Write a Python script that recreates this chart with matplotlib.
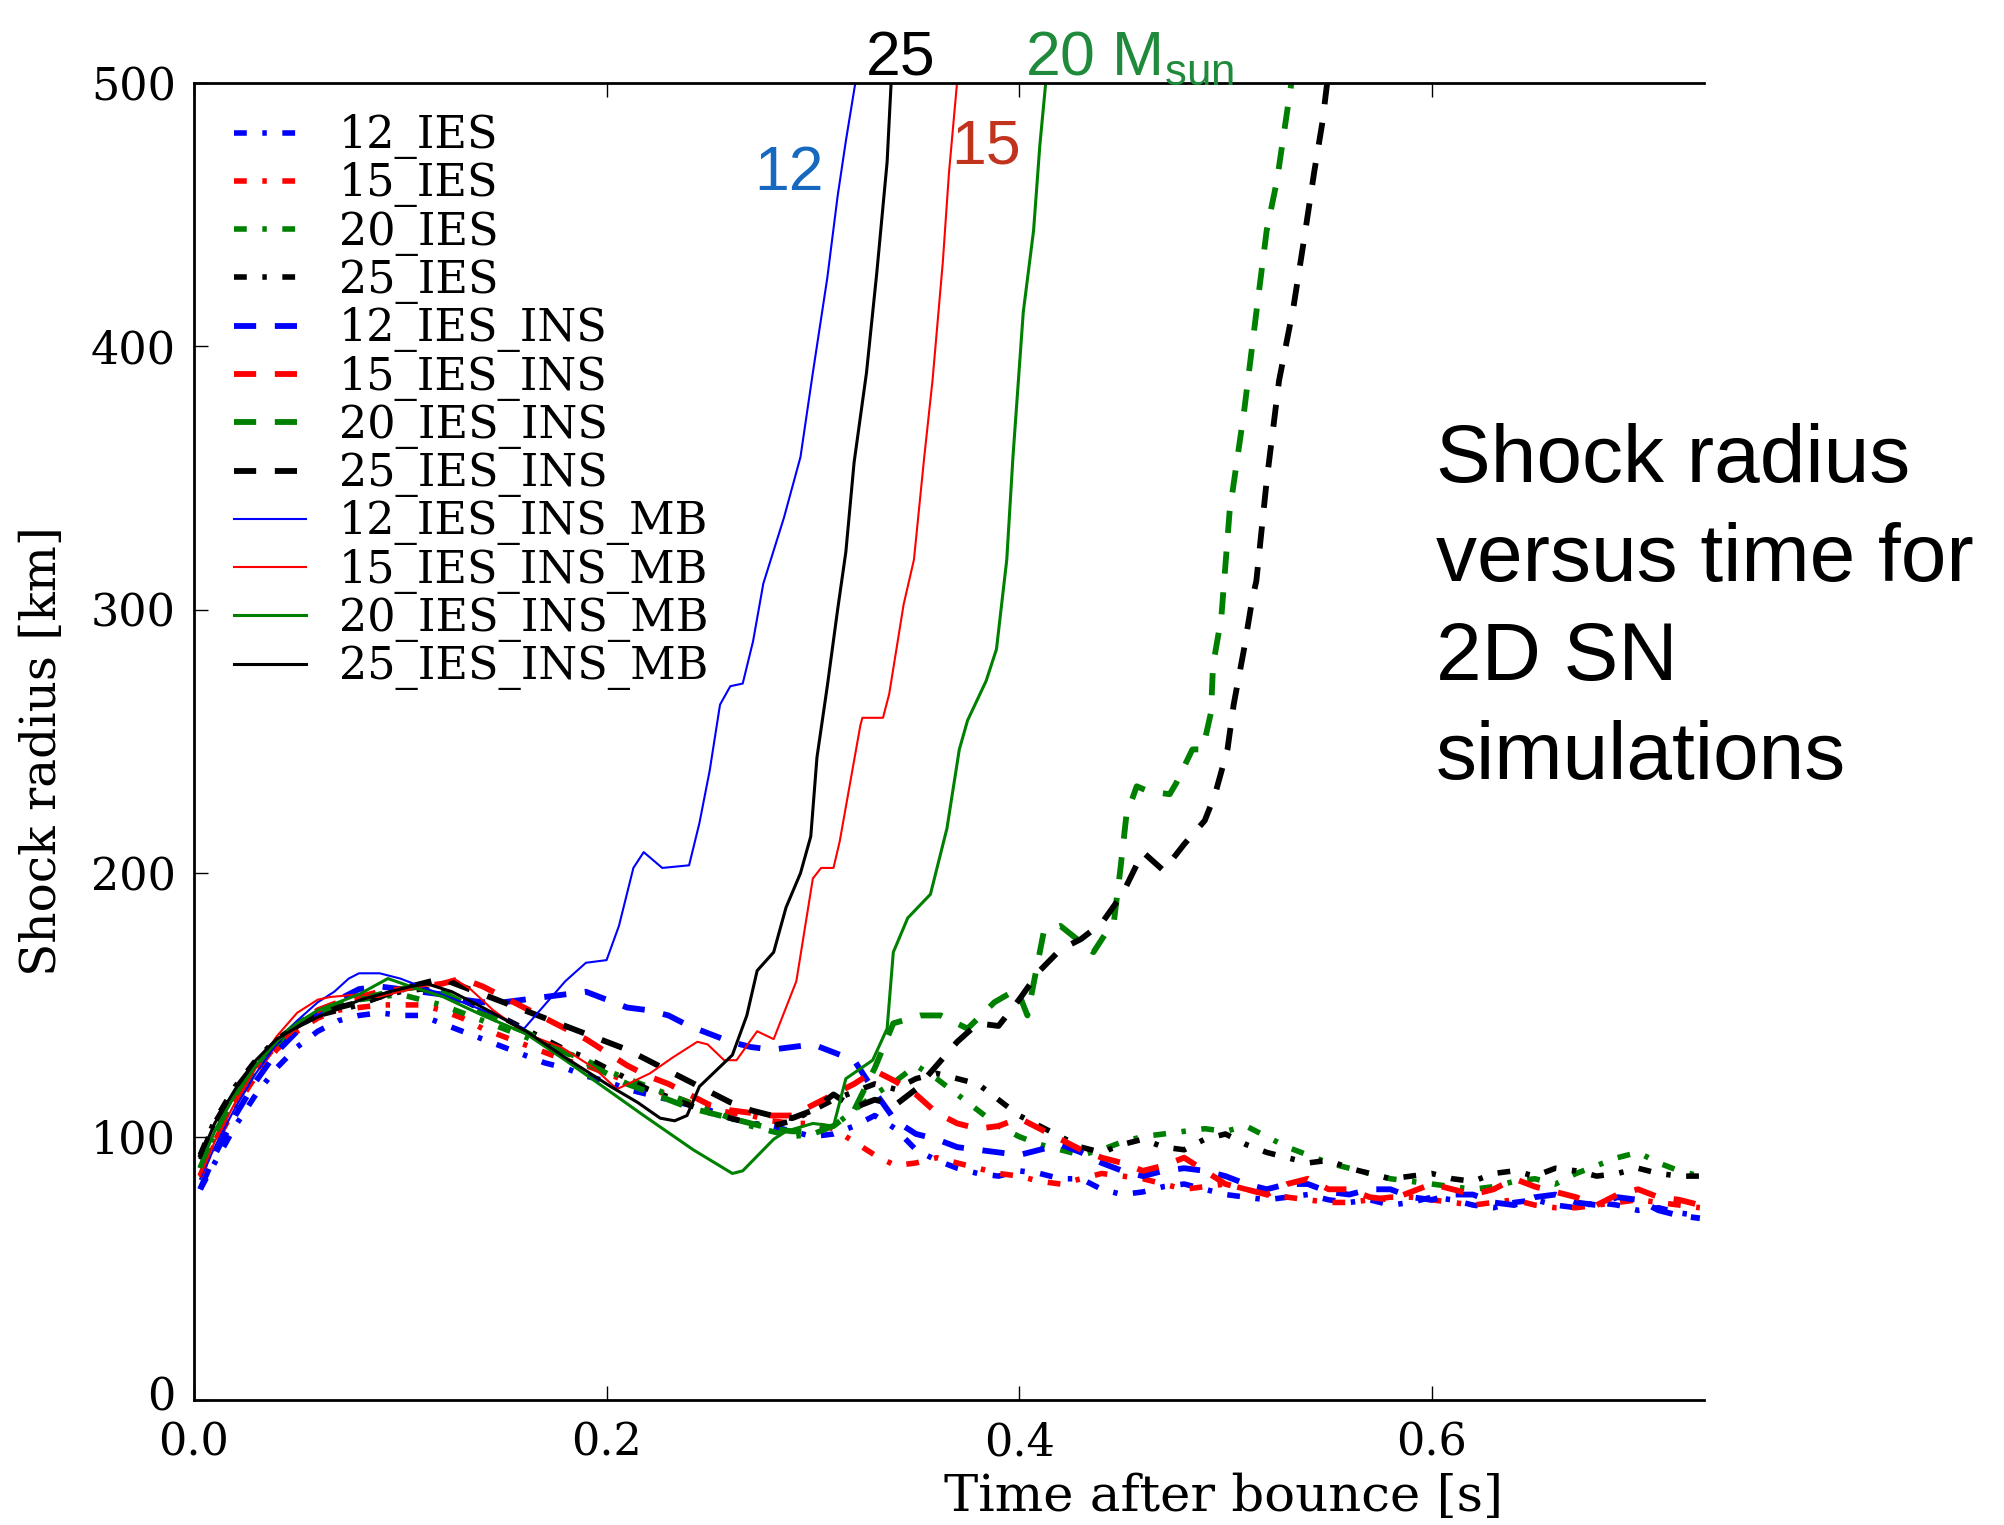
import matplotlib
matplotlib.use("Agg")
import matplotlib.pyplot as plt
from matplotlib.transforms import ScaledTranslation

# shared time grid [s] for the slowly varying runs
T_GRID = [0.003, 0.01, 0.02, 0.03, 0.04, 0.05, 0.06, 0.07, 0.08, 0.09,
          0.10, 0.11, 0.12, 0.13, 0.14, 0.15, 0.16, 0.17, 0.18, 0.19,
          0.20, 0.21, 0.22, 0.23, 0.24, 0.25, 0.26, 0.27, 0.28, 0.29,
          0.30, 0.31, 0.32, 0.33, 0.34, 0.35, 0.36, 0.37, 0.38, 0.39,
          0.40, 0.41, 0.42, 0.43, 0.44, 0.45, 0.46, 0.47, 0.48, 0.49,
          0.50, 0.51, 0.52, 0.53, 0.54, 0.55, 0.56, 0.57, 0.58, 0.59,
          0.60, 0.61, 0.62, 0.63, 0.64, 0.65, 0.66, 0.67, 0.68, 0.69,
          0.70, 0.71, 0.72, 0.73]

# shock radius [km], IES runs (dash-dot)
r12_ies = [80, 90, 104, 116, 126, 134, 140, 144, 146, 147,
           146, 146, 143, 140, 137, 134, 131, 128, 126, 123,
           121, 118, 116, 114, 112, 110, 107, 105, 104, 102,
           100, 101, 104, 108, 103, 95, 91, 88, 86, 85,
           87, 86, 84, 84, 80, 78, 79, 81, 82, 80,
           78, 77, 76, 77, 78, 76, 75, 76, 74, 75,
           77, 76, 74, 73, 75, 76, 74, 73, 75, 74,
           72, 73, 71, 70]
r15_ies = [85, 97, 111, 123, 133, 140, 145, 148, 149, 150,
           150, 150, 148, 145, 141, 138, 135, 132, 129, 127,
           124, 121, 118, 116, 113, 111, 109, 108, 106, 105,
           105, 103, 98, 93, 89, 90, 92, 90, 88, 86,
           85, 83, 82, 84, 86, 85, 84, 82, 80, 81,
           82, 80, 78, 77, 76, 75, 75, 76, 77, 77,
           76, 75, 74, 75, 76, 74, 73, 73, 74, 75,
           76, 75, 74, 73]
r20_ies = [88, 100, 114, 126, 135, 142, 147, 150, 152, 153,
           154, 152, 150, 147, 144, 141, 138, 135, 132, 129,
           125, 122, 119, 116, 113, 110, 107, 104, 102, 100,
           101, 104, 110, 116, 121, 127, 122, 116, 110, 104,
           100, 97, 95, 93, 95, 98, 100, 101, 102, 103,
           102, 104, 100, 96, 93, 90, 88, 86, 84, 83,
           82, 81, 80, 81, 83, 84, 82, 86, 89, 92,
           94, 90, 87, 85]
r25_ies = [93, 106, 119, 129, 137, 142, 146, 148, 150, 153,
           155, 156, 155, 152, 148, 145, 141, 137, 133, 130,
           126, 122, 118, 115, 112, 109, 107, 105, 104, 106,
           110, 114, 117, 120, 118, 122, 124, 122, 120, 114,
           108, 104, 100, 96, 94, 97, 99, 96, 95, 99,
           101, 97, 94, 92, 90, 91, 88, 86, 84, 85,
           86, 84, 83, 86, 87, 85, 88, 87, 85, 86,
           88, 86, 85, 85]

# IES_INS runs (dashed)
r12_ins = [80, 93, 108, 121, 132, 140, 147, 152, 156, 157,
           156, 155, 154, 152, 151, 151, 152, 153, 154, 155,
           152, 149, 148, 146, 142, 139, 136, 134, 133, 134,
           135, 132, 129, 117, 106, 101, 99, 96, 95, 94,
           93, 95, 97, 94, 90, 87, 85, 87, 88, 87,
           85, 82, 80, 82, 82, 79, 78, 80, 80, 77,
           76, 78, 78, 75, 74, 77, 78, 75, 74, 77,
           76, 72, 70, 69]
r15_ins = [85, 98, 113, 125, 135, 142, 148, 151, 153, 155,
           156, 157, 158, 160, 157, 153, 149, 145, 141, 137,
           132, 127, 123, 120, 116, 112, 110, 109, 108, 108,
           112, 116, 120, 125, 121, 116, 109, 105, 103, 104,
           107, 103, 99, 95, 92, 90, 87, 89, 92, 87,
           82, 80, 78, 82, 84, 80, 80, 77, 76, 79,
           82, 80, 78, 80, 84, 81, 79, 77, 74, 78,
           80, 77, 76, 74]
t20_ins = [0.003, 0.01, 0.02, 0.03, 0.04, 0.05, 0.06, 0.07, 0.08, 0.09,
           0.10, 0.11, 0.12, 0.13, 0.14, 0.15, 0.16, 0.17, 0.18, 0.19,
           0.20, 0.21, 0.22, 0.23, 0.24, 0.25, 0.26, 0.27, 0.28, 0.29,
           0.30, 0.31, 0.32, 0.33, 0.339, 0.352, 0.362, 0.375, 0.388, 0.399,
           0.404, 0.412, 0.420, 0.436, 0.446, 0.449, 0.452, 0.457, 0.463, 0.473,
           0.476, 0.484, 0.489, 0.493, 0.494, 0.498, 0.502, 0.509, 0.515, 0.520,
           0.525, 0.528, 0.531, 0.535]
r20_ins = [88, 101, 115, 127, 136, 143, 147, 150, 152, 154,
           156, 157, 155, 151, 147, 143, 140, 136, 132, 128,
           124, 120, 117, 114, 111, 109, 107, 105, 103, 102,
           102, 104, 110, 126, 143, 146, 146, 141, 151, 156,
           146, 178, 180, 170, 182, 201, 222, 233, 231, 230,
           234, 247, 247, 261, 279, 297, 337, 375, 413, 444,
           463, 479, 495, 515]
t25_ins = [0.003, 0.01, 0.02, 0.03, 0.04, 0.05, 0.06, 0.07, 0.08, 0.09,
           0.10, 0.11, 0.12, 0.13, 0.14, 0.15, 0.16, 0.17, 0.18, 0.19,
           0.20, 0.21, 0.22, 0.23, 0.24, 0.25, 0.26, 0.27, 0.28, 0.29,
           0.30, 0.31, 0.32, 0.33, 0.34, 0.35, 0.36, 0.37, 0.38, 0.39,
           0.40, 0.41, 0.42, 0.43, 0.44, 0.45, 0.46, 0.47, 0.48, 0.49,
           0.495, 0.501, 0.504, 0.509, 0.513, 0.515, 0.520, 0.526, 0.533, 0.538,
           0.543, 0.547, 0.549, 0.552]
r25_ins = [92, 105, 118, 128, 136, 142, 146, 149, 151, 153,
           156, 158, 160, 157, 154, 151, 148, 145, 142, 139,
           136, 133, 129, 125, 121, 117, 113, 110, 108, 107,
           110, 116, 111, 114, 112, 118, 127, 136, 143, 142,
           152, 163, 171, 175, 181, 192, 208, 201, 211, 220,
           230, 247, 264, 285, 304, 311, 349, 387, 415, 440,
           466, 485, 498, 515]

# IES_INS_MB runs (solid)
t12_mb = [0.003, 0.01, 0.02, 0.03, 0.04, 0.05, 0.06, 0.068, 0.075, 0.08,
          0.09, 0.10, 0.11, 0.12, 0.13, 0.14, 0.15, 0.16, 0.17, 0.18,
          0.19, 0.20, 0.206, 0.213, 0.218, 0.227, 0.24, 0.245, 0.25, 0.255,
          0.26, 0.266, 0.271, 0.276, 0.286, 0.294, 0.30, 0.307, 0.312, 0.316,
          0.321]
r12_mb = [84, 96, 111, 124, 135, 144, 151, 155, 160, 162,
          162, 160, 157, 154, 151, 148, 145, 141, 150, 159,
          166, 167, 180, 202, 208, 202, 203, 219, 239, 264,
          271, 272, 288, 310, 335, 358, 390, 426, 457, 478,
          502]
t15_mb = [0.003, 0.01, 0.02, 0.03, 0.04, 0.05, 0.06, 0.066, 0.08, 0.089,
          0.10, 0.11, 0.12, 0.126, 0.134, 0.145, 0.161, 0.178, 0.194, 0.205,
          0.213, 0.221, 0.232, 0.244, 0.249, 0.257, 0.263, 0.273, 0.281, 0.292,
          0.300, 0.304, 0.310, 0.313, 0.323, 0.324, 0.334, 0.337, 0.344, 0.349,
          0.354, 0.358, 0.363, 0.366, 0.370]
r15_mb = [85, 98, 113, 126, 138, 147, 152, 153, 154, 153,
          155, 157, 158, 160, 156, 148, 139, 134, 126, 118,
          121, 124, 130, 136, 135, 129, 129, 140, 137, 159,
          198, 202, 202, 212, 256, 259, 259, 268, 302, 319,
          358, 387, 432, 466, 501]
t20_mb = [0.003, 0.01, 0.02, 0.03, 0.04, 0.05, 0.06, 0.07, 0.08, 0.094,
          0.105, 0.121, 0.14, 0.161, 0.18, 0.20, 0.218, 0.242, 0.261, 0.266,
          0.281, 0.287, 0.300, 0.310, 0.316, 0.329, 0.336, 0.339, 0.346, 0.357,
          0.365, 0.371, 0.375, 0.384, 0.389, 0.394, 0.397, 0.402, 0.407, 0.410,
          0.413]
r20_mb = [89, 102, 116, 127, 136, 143, 148, 151, 154, 160,
          157, 153, 146, 139, 129, 118, 108, 95, 86, 87,
          99, 102, 105, 104, 122, 129, 141, 170, 183, 192,
          217, 247, 258, 273, 285, 319, 358, 413, 444, 476,
          501]
t25_mb = [0.003, 0.01, 0.02, 0.03, 0.04, 0.053, 0.065, 0.081, 0.095, 0.105,
          0.113, 0.125, 0.14, 0.161, 0.18, 0.202, 0.215, 0.226, 0.233, 0.239,
          0.245, 0.253, 0.261, 0.268, 0.273, 0.281, 0.287, 0.294, 0.299, 0.302,
          0.307, 0.312, 0.316, 0.320, 0.326, 0.331, 0.336, 0.338]
r25_mb = [92, 105, 118, 129, 137, 143, 147, 152, 155, 157,
          158, 155, 149, 140, 130, 119, 113, 107, 106, 108,
          119, 125, 131, 146, 163, 170, 187, 200, 214, 244,
          271, 300, 322, 356, 390, 428, 470, 501]

labels = ["12_IES", "15_IES", "20_IES", "25_IES",
          "12_IES_INS", "15_IES_INS", "20_IES_INS", "25_IES_INS",
          "12_IES_INS_MB", "15_IES_INS_MB", "20_IES_INS_MB", "25_IES_INS_MB"]
colors = ["b", "r", "g", "k"]

plt.rcParams["font.family"] = "DejaVu Serif"

W, H = 2004, 1525
fig = plt.figure(figsize=(W / 100, H / 100), dpi=100)
ax = fig.add_axes([194 / W, 1 - 1400 / H, 1510 / W, 1317 / H])

def px(x, y):
    # figure pixel -> figure fraction
    return x / W, 1 - y / H

# dash-dot
for r, c, lab in zip([r12_ies, r15_ies, r20_ies, r25_ies], colors, labels[0:4]):
    ax.plot(T_GRID, r, color=c, lw=4.0, dashes=(2.3, 2.8, 0.8, 2.8), label=lab)

# dashed
ins_t = [T_GRID, T_GRID, t20_ins, t25_ins]
ins_r = [r12_ins, r15_ins, r20_ins, r25_ins]
for t, r, c, lab in zip(ins_t, ins_r, colors, labels[4:8]):
    ax.plot(t, r, color=c, lw=4.2, dashes=(3.8, 3.2), label=lab)

# solid
mb_t = [t12_mb, t15_mb, t20_mb, t25_mb]
mb_r = [r12_mb, r15_mb, r20_mb, r25_mb]
mb_lw = [1.5, 1.5, 2.2, 2.2]
for t, r, c, lab, lw in zip(mb_t, mb_r, colors, labels[8:12], mb_lw):
    ax.plot(t, r, color=c, lw=lw, label=lab)

ax.set_xlim(0, 0.732)
ax.set_ylim(0, 500)
ax.set_xticks([0.0, 0.2, 0.4, 0.6])
ax.set_yticks([0, 100, 200, 300, 400, 500])
ax.set_xticklabels(["0.0", "0.2", "0.4", "0.6"])
ax.tick_params(direction="in", length=10, width=1, labelsize=32, pad=13,
               top=True, right=False)
ax.tick_params(axis="x", pad=15)
ax.spines["right"].set_visible(False)
for s in ["top", "bottom", "left"]:
    ax.spines[s].set_linewidth(2)

# nudge the "0" on the y axis up a little so it clears the "0.0" below it
fig.canvas.draw()
zero_lab = ax.get_yticklabels()[0]
zero_lab.set_transform(zero_lab.get_transform() +
                       ScaledTranslation(0, 7 / 100, fig.dpi_scale_trans))

ax.set_xlabel("Time after bounce [s]", fontsize=37)
ax.xaxis.set_label_coords(0.682, -0.055)
ax.set_ylabel("Shock radius [km]", fontsize=35)
ax.yaxis.set_label_coords(-0.085, 0.493)

ax.legend(loc="upper left", bbox_to_anchor=(0.015, 0.99), borderaxespad=0,
          frameon=False, fontsize=32, handlelength=1.6, handletextpad=0.75,
          labelspacing=0.07)

# mass annotations
sans = "Liberation Sans"
fig.text(*px(789, 190), "12", color="#1769c0", fontsize=45, family=sans,
         ha="center", va="baseline")
fig.text(*px(986, 163), "15", color="#c1331c", fontsize=45, family=sans,
         ha="center", va="baseline")
fig.text(*px(901, 75), "25", color="black", fontsize=45, family=sans,
         ha="center", va="baseline")
fig.text(*px(1025, 75), r"20 M$_\mathregular{sun}$", color="#1f8a3b",
         fontsize=45, family=sans, ha="left", va="baseline")

# baseline of the last line; first line baseline sits three lines higher
fig.text(*px(1436, 779), "Shock radius\nversus time for\n2D SN\nsimulations",
         fontsize=59, family=sans, ha="left", va="baseline", linespacing=1.39)

fig.savefig("out.png", dpi=100)
